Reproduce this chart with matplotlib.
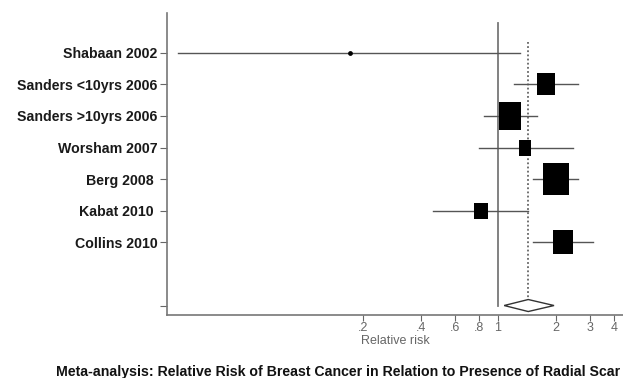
import matplotlib
matplotlib.use('Agg')
import matplotlib.pyplot as plt
import numpy as np

# Study data: relative risk, 95% CI and weight (%)
studies = ['Shabaan 2002', 'Sanders <10yrs 2006', 'Sanders >10yrs 2006',
           'Worsham 2007', 'Berg 2008 ', 'Kabat 2010 ', 'Collins 2010']
rr = [0.171, 1.78, 1.156, 1.386, 2.01, 0.817, 2.18]
ci_low = [0.0219, 1.215, 0.849, 0.80, 1.53, 0.463, 1.53]
ci_high = [1.31, 2.60, 1.605, 2.45, 2.62, 1.43, 3.13]
weights = [0.2, 15.2, 21.5, 7.4, 30.1, 8.1, 17.4]

# Pooled estimate
pooled_rr = 1.44
pooled_low = 1.08
pooled_high = 1.96

tick_vals = [0.2, 0.4, 0.6, 0.8, 1, 2, 3, 4]
tick_labels = ['.2', '.4', '.6', '.8', '1', '2', '3', '4']

title = 'Meta-analysis: Relative Risk of Breast Cancer in Relation to Presence of Radial Scar'

font = 'Liberation Sans'
grey = '#666666'

fig = plt.figure(figsize=(6.23, 3.78), dpi=100)
ax = fig.add_axes([167 / 623, 1 - 315 / 378, (623 - 167) / 623, (315 - 13) / 378])

rows = np.arange(len(studies))
pooled_row = len(studies) + 1

# reference line at RR = 1 and dotted line at pooled estimate
ax.plot([1, 1], [-0.94, pooled_row], color='#777777', lw=1.3, zorder=1)
ax.plot([pooled_rr, pooled_rr], [-0.35, pooled_row - 0.19], color='#666666',
        lw=1.3, ls=(0, (1, 1.3)), zorder=1)

# confidence intervals
for r, lo, hi in zip(rows, ci_low, ci_high):
    ax.plot([lo, hi], [r, r], color='#555555', lw=1.0, zorder=2)

# weight boxes (slightly taller than wide)
box = np.array([[-0.81, -1], [0.81, -1], [0.81, 1], [-0.81, 1], [-0.81, -1]])
for r, x, w in zip(rows, rr, weights):
    h_px = 5.83 * np.sqrt(w)
    ax.scatter([x], [r], marker=box, s=(h_px * 0.72) ** 2, color='black',
               linewidths=0, zorder=3)
ax.scatter(rr, rows, s=12, color='black', zorder=4, linewidths=0)

# pooled diamond
dh = 0.19
ax.fill([pooled_low, pooled_rr, pooled_high, pooled_rr, pooled_low],
        [pooled_row, pooled_row - dh, pooled_row, pooled_row + dh, pooled_row],
        facecolor='white', edgecolor='#333333', lw=1.0, zorder=3)

ax.set_xscale('log')
ax.set_xlim(0.0192, 4.47)
ax.set_ylim(8.3, -1.26)

ax.set_xticks(tick_vals)
ax.set_xticklabels(tick_labels, fontfamily=font, fontsize=9, color=grey)
ax.xaxis.set_minor_locator(matplotlib.ticker.NullLocator())
ax.set_yticks(list(rows) + [pooled_row])
ax.set_yticklabels(studies + [''], fontfamily=font, fontsize=10.2,
                   fontweight='bold', color='#1a1a1a')
ax.tick_params(axis='x', length=4, width=0.8, color=grey, pad=1)
ax.tick_params(axis='y', length=5, width=0.8, color=grey, pad=2)

for side in ['top', 'right']:
    ax.spines[side].set_visible(False)
for side in ['left', 'bottom']:
    ax.spines[side].set_color('#777777')
    ax.spines[side].set_linewidth(1.2)

ax.set_xlabel('Relative risk', fontfamily=font, fontsize=9, color=grey, labelpad=1)

fig.text(338 / 623, 1 - 372 / 378, title, ha='center', va='center',
         fontfamily=font, fontsize=10.2, fontweight='bold', color='#111111')

fig.savefig('out.png', dpi=100)
